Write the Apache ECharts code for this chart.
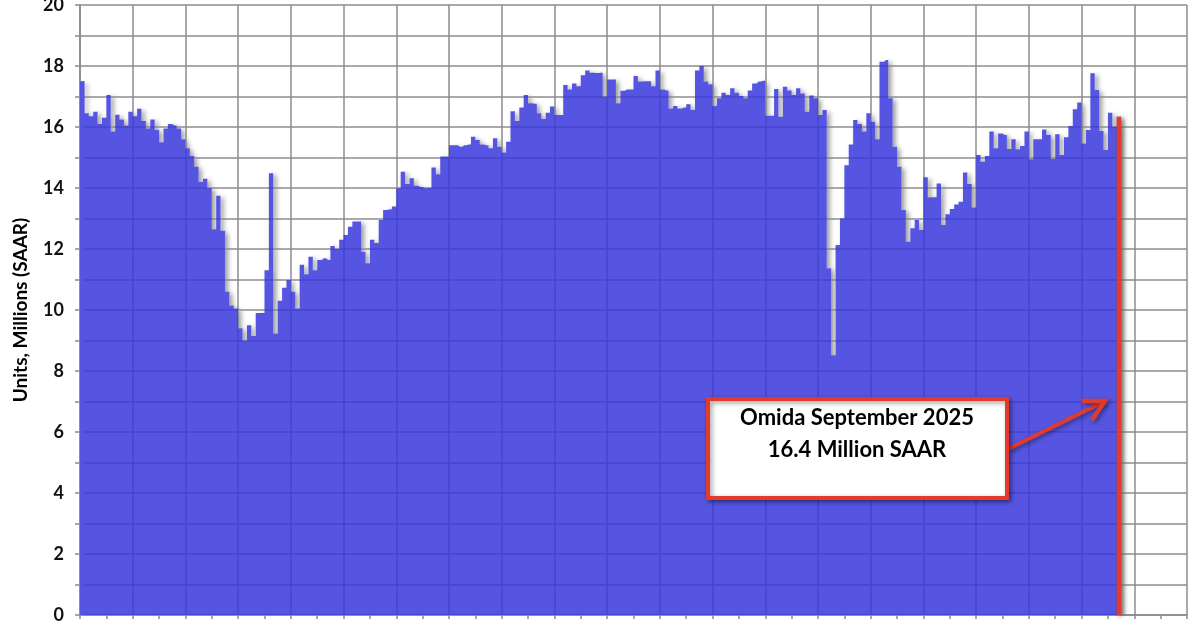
<!DOCTYPE html>
<html>
<head>
<meta charset="utf-8">
<script src="https://cdn.jsdelivr.net/npm/echarts@6/dist/echarts.min.js"></script>
<style>
html,body{margin:0;padding:0;background:#fff;}
#c{width:1200px;height:630px;}
</style>
</head>
<body>
<div id="c"></div>
<script>
// Monthly US light vehicle sales, millions SAAR
const monthNames = ['Jan','Feb','Mar','Apr','May','Jun','Jul','Aug','Sep','Oct','Nov','Dec'];
const years = [2006,2007,2008,2009,2010,2011,2012,2013,2014,2015,2016,2017,2018,2019,2020,2021,2022,2023,2024,2025,2026];
const y2006 = [17.5,16.45,16.35,16.5,16.1,16.3,17.05,15.85,16.4,16.25,16.05,16.5];
const y2007 = [16.35,16.6,16.2,15.95,16.25,15.9,15.5,15.95,16.1,16.05,15.95,15.6];
const y2008 = [15.3,15.05,14.7,14.2,14.3,14.0,12.65,13.75,12.6,10.6,10.15,10.05];
const y2009 = [9.4,9.0,9.5,9.15,9.9,9.9,11.3,14.48,9.23,10.3,10.73,10.98];
const y2010 = [10.6,10.05,11.48,11.17,11.75,11.3,11.64,11.7,11.64,12.1,12.0,12.3];
const y2011 = [12.46,12.73,12.9,12.9,11.9,11.53,12.3,12.2,12.95,13.28,13.3,13.39];
const y2012 = [13.99,14.53,14.13,14.32,14.07,14.03,13.99,14.0,14.67,14.45,15.03,15.03];
const y2013 = [15.4,15.4,15.35,15.4,15.43,15.68,15.57,15.43,15.4,15.3,15.63,15.35];
const y2014 = [15.16,15.52,16.52,16.2,16.64,17.05,16.78,16.76,16.45,16.26,16.47,16.67];
const y2015 = [16.39,16.39,17.38,17.23,17.43,17.34,17.7,17.85,17.78,17.77,17.78,17.0];
const y2016 = [17.56,17.56,16.78,17.19,17.23,17.23,17.67,17.49,17.5,17.5,17.34,17.85];
const y2017 = [17.23,17.2,16.61,16.69,16.61,16.64,16.75,16.56,17.85,18.0,17.49,17.4];
const y2018 = [16.69,16.94,17.12,17.05,17.27,17.12,17.02,16.94,17.2,17.43,17.49,17.52];
const y2019 = [16.37,16.37,17.25,16.34,17.32,17.2,17.05,17.27,17.1,16.5,17.03,16.94];
const y2020 = [16.39,16.56,11.37,8.52,12.13,13.0,14.75,15.43,16.23,16.1,15.85,16.45];
const y2021 = [16.17,15.6,18.14,18.2,16.94,15.35,14.7,13.28,12.24,12.68,12.95,12.62];
const y2022 = [14.35,13.7,13.7,14.15,12.79,13.14,13.31,13.46,13.55,14.51,14.13,13.36];
const y2023 = [15.08,14.86,15.05,15.85,15.3,15.79,15.74,15.28,15.6,15.27,15.38,15.85];
const y2024 = [14.94,15.6,15.6,15.92,15.74,14.95,15.76,15.08,15.66,16.03,16.58,16.8];
const y2025 = [15.46,15.9,17.76,17.21,15.87,15.25,16.47,16.01,16.34];
const latestLabel = ['Omida September 2025', '16.4 Million SAAR'];
const yTicks = [0,2,4,6,8,10,12,14,16,18,20];

const allYears = [y2006,y2007,y2008,y2009,y2010,y2011,y2012,y2013,y2014,y2015,y2016,y2017,y2018,y2019,y2020,y2021,y2022,y2023,y2024,y2025];
const categories = [];
years.forEach(y => monthNames.forEach(m => categories.push(m + ' ' + y)));
const values = [];
allYears.forEach(a => a.forEach(v => values.push(v)));
const lastIdx = values.length - 1;
while (values.length < categories.length) values.push(null);

const RED = '#e23b2b';
const latestOnly = values.map((v, i) => i === lastIdx ? v : null);

const chart = echarts.init(document.getElementById('c'), null, {renderer: 'canvas'});
chart.setOption({
  animation: false,
  backgroundColor: '#ffffff',
  grid: {left: 80, right: 13, top: 5, bottom: 15, containLabel: false, outerBoundsMode: 'none'},
  xAxis: {
    type: 'category',
    data: categories,
    boundaryGap: true,
    z: 2,
    axisLine: {show: true, lineStyle: {color: '#8a8a8a', width: 1.5}},
    axisTick: {show: true, interval: 5, length: 4, lineStyle: {color: '#8a8a8a', width: 1.5}},
    axisLabel: {show: false},
    splitLine: {show: true, interval: 11, lineStyle: {color: '#8c8c8c', width: 1.5}}
  },
  yAxis: {
    type: 'value',
    min: 0, max: 20, interval: 1,
    z: 2,
    name: 'Units, Millions (SAAR)',
    nameLocation: 'middle',
    nameGap: 50,
    nameTextStyle: {fontFamily: 'Lato', fontWeight: 'bold', fontSize: 19, color: '#000'},
    axisLine: {show: true, lineStyle: {color: '#8a8a8a', width: 1.5}},
    axisTick: {show: true, length: 5, lineStyle: {color: '#8a8a8a', width: 1.5}},
    axisLabel: {
      margin: 16,
      fontFamily: 'Lato', fontWeight: 'bold', fontSize: 18, color: '#111',
      formatter: v => yTicks.indexOf(v) >= 0 ? String(v) : ''
    },
    splitLine: {show: true, lineStyle: {color: '#8c8c8c', width: 1.5}}
  },
  series: [
    {
      // opaque backing with drop shadow (below the grid lines)
      type: 'line',
      data: values,
      step: 'middle',
      z: 1,
      silent: true,
      showSymbol: false,
      lineStyle: {width: 0, color: '#ffffff'},
      areaStyle: {color: '#ffffff', opacity: 1, shadowColor: 'rgba(0,0,0,0.4)', shadowBlur: 5, shadowOffsetX: 3, shadowOffsetY: 2}
    },
    {
      // monthly sales columns (grid lines show through slightly)
      type: 'line',
      data: values,
      step: 'middle',
      z: 3,
      showSymbol: false,
      lineStyle: {width: 0, color: 'rgba(55,55,220,0.85)'},
      areaStyle: {color: 'rgba(55,55,220,0.85)', opacity: 1}
    },
    {
      // first month's left half (area series starts at the category centre)
      type: 'bar',
      data: values.map((v, i) => i === 0 ? v : null),
      z: 3,
      barGap: '-100%',
      barCategoryGap: '0%',
      itemStyle: {color: '#5555e1'}
    },
    {
      // latest month in red
      type: 'bar',
      data: latestOnly,
      z: 4,
      barGap: '-100%',
      barCategoryGap: '0%',
      itemStyle: {color: RED, shadowColor: 'rgba(0,0,0,0.35)', shadowBlur: 4, shadowOffsetX: 2, shadowOffsetY: 1}
    }
  ],
  graphic: [
    {
      type: 'line', z: 100,
      shape: {x1: 1008, y1: 449, x2: 1103, y2: 402},
      style: {stroke: RED, lineWidth: 4, shadowColor: 'rgba(0,0,0,0.4)', shadowBlur: 4, shadowOffsetX: 2, shadowOffsetY: 2}
    },
    {
      type: 'polyline', z: 100,
      shape: {points: [[1082, 401], [1105, 401], [1092, 420]]},
      style: {stroke: RED, lineWidth: 4.5, fill: null, lineJoin: 'miter', shadowColor: 'rgba(0,0,0,0.4)', shadowBlur: 4, shadowOffsetX: 2, shadowOffsetY: 2}
    },
    {
      type: 'rect', z: 101,
      shape: {x: 708, y: 399, width: 299, height: 99},
      style: {fill: '#ffffff', stroke: RED, lineWidth: 4, shadowColor: 'rgba(0,0,0,0.4)', shadowBlur: 5, shadowOffsetX: 2, shadowOffsetY: 2}
    },
    {
      type: 'text', z: 102,
      x: 857, y: 418,
      style: {text: latestLabel[0], fill: '#000', font: 'bold 22px Lato', textAlign: 'center', textVerticalAlign: 'middle'}
    },
    {
      type: 'text', z: 102,
      x: 857, y: 450,
      style: {text: latestLabel[1], fill: '#000', font: 'bold 22px Lato', textAlign: 'center', textVerticalAlign: 'middle'}
    }
  ]
});
</script>
</body>
</html>
